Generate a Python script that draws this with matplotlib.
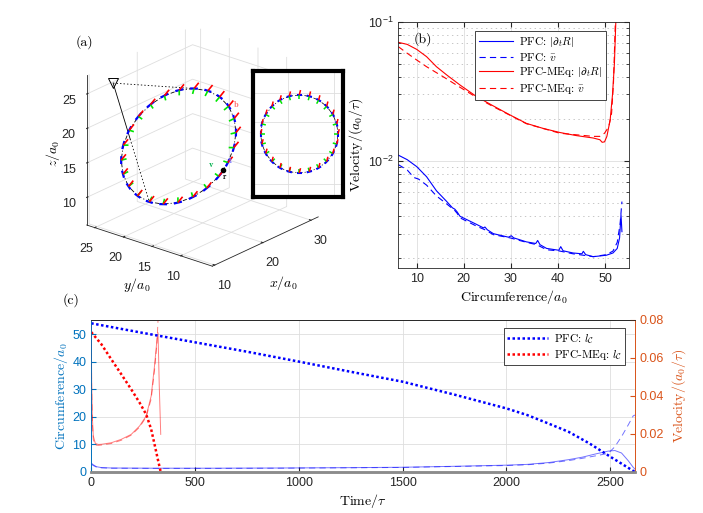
import numpy as np
import matplotlib
matplotlib.use('Agg')
import matplotlib.pyplot as plt
from matplotlib.collections import LineCollection
from matplotlib.ticker import NullFormatter
from mpl_toolkits.mplot3d import proj3d
from mpl_toolkits.mplot3d.art3d import Line3DCollection

W, H = 703, 513
plt.rcParams.update({
    'font.family': ['Liberation Sans', 'DejaVu Sans'],
    'mathtext.fontset': 'cm',
    'font.size': 9,
    'xtick.labelsize': 9, 'ytick.labelsize': 9,
    'axes.edgecolor': '#262626', 'xtick.color': '#262626', 'ytick.color': '#262626',
    'axes.linewidth': 0.6,
    'grid.color': '#dedede', 'grid.linewidth': 0.6,
    'lines.scale_dashes': False,
})
SERIF = 'cmr10'

# ---------------- data: panel (a) dislocation loop (3D) ----------------
loop_x = [15.60, 17.17, 18.64, 19.90, 20.87, 21.47, 21.68, 21.47, 20.87, 19.90, 18.64, 17.17,
          15.60, 14.03, 12.56, 11.30, 10.33, 9.73, 9.52, 9.73, 10.33, 11.30, 12.56, 14.03]
loop_y = [24.10, 23.81, 22.95, 21.58, 19.80, 17.73, 15.50, 13.27, 11.20, 9.42, 8.05, 7.19,
          6.90, 7.19, 8.05, 9.42, 11.20, 13.27, 15.50, 17.73, 19.80, 21.58, 22.95, 23.81]
loop_z = [18.40, 19.97, 21.44, 22.70, 23.67, 24.27, 24.48, 24.27, 23.67, 22.70, 21.44, 19.97,
          18.40, 16.83, 15.36, 14.10, 13.13, 12.53, 12.32, 12.53, 13.13, 14.10, 15.36, 16.83]
burgers = [0.68, -0.25, 0.69]
r_point = [14.75, 6.99, 17.55]
camera_point = [2.0, 15.5, 32.0]
cone_targets = [5, 18]

# ---------------- data: panel (b) velocity vs circumference ----------------
b_circ_pfc_s = [6.1, 8.0, 10.0, 12.1, 14.2, 16.4, 17.6, 18.1, 18.6, 19.2, 22.7, 24.2, 24.5, 25.0,
                26.3, 29.5, 30.1, 30.6, 33.3, 35.3, 35.7, 36.2, 37.6, 40.2, 40.6, 41.1, 43.2,
                45.1, 45.4, 45.9, 47.5, 50.3, 51.7, 52.6, 53.1, 53.4, 53.6]
b_vel_pfc_s = [0.0110, 0.0102, 0.0091, 0.0077, 0.0061, 0.0051, 0.0046, 0.0045, 0.0043, 0.0040,
               0.0035, 0.0033, 0.00335, 0.0032, 0.0030, 0.00283, 0.00290, 0.0028, 0.00262,
               0.00255, 0.00268, 0.00250, 0.00235, 0.00228, 0.00242, 0.00226, 0.00218, 0.00215,
               0.00224, 0.00212, 0.00205, 0.00210, 0.00218, 0.00235, 0.0028, 0.0041, 0.0031]
b_circ_pfc_d = [6.1, 8.0, 9.4, 10.4, 12.1, 14.2, 16.4, 18.1, 18.6, 19.2, 22.7, 24.5, 26.3, 29.8,
                33.3, 35.5, 37.6, 40.4, 43.2, 45.4, 47.5, 50.3, 51.7, 52.6, 53.2, 53.6]
b_vel_pfc_d = [0.0094, 0.0086, 0.0076, 0.0074, 0.0067, 0.0056, 0.0049, 0.0044, 0.0042, 0.0039,
               0.0034, 0.0032, 0.00295, 0.0028, 0.0026, 0.0025, 0.0023, 0.00225, 0.00215,
               0.0021, 0.00205, 0.00212, 0.00225, 0.0026, 0.0035, 0.0051]
b_circ_meq_s = [6.1, 8.0, 10.0, 12.1, 14.2, 16.4, 19.2, 22.7, 26.3, 29.8, 33.3, 36.9, 40.4, 43.9,
                47.5, 48.9, 49.4, 49.9, 50.4, 51.1, 51.6, 52.0, 52.3]
b_vel_meq_s = [0.0711, 0.0687, 0.0633, 0.0561, 0.0475, 0.0414, 0.0351, 0.0290, 0.0248, 0.0214,
               0.0186, 0.0171, 0.0160, 0.0152, 0.0146, 0.0142, 0.0136, 0.0137, 0.0150, 0.0197,
               0.030, 0.050, 0.1]
b_circ_meq_d = [6.1, 8.0, 10.0, 12.1, 15.6, 19.2, 22.7, 26.3, 33.3, 40.4, 47.5, 48.9, 49.9, 50.8,
                51.4, 51.8, 52.2]
b_vel_meq_d = [0.0662, 0.0593, 0.0531, 0.0475, 0.0403, 0.0338, 0.0286, 0.0245, 0.0185, 0.0158,
               0.0150, 0.0150, 0.0158, 0.0176, 0.0220, 0.0361, 0.1]

# ---------------- data: panel (c) time series ----------------
c_t_lc_pfc = [0, 250, 500, 750, 1000, 1250, 1500, 1750, 2000, 2100, 2200, 2300, 2400, 2500, 2560, 2620]
c_lc_pfc = [54.0, 50.5, 47.1, 43.7, 40.1, 36.4, 32.8, 28.1, 23.1, 20.7, 17.7, 14.6, 10.4, 5.6, 2.8, 0.0]
c_t_lc_meq = [0, 49, 97, 145, 193, 233, 265, 289, 305, 321, 335]
c_lc_meq = [50.8, 46.4, 40.9, 35.5, 30.0, 25.2, 20.9, 15.5, 10.1, 4.6, 0.0]
c_t_v_pfc = [0, 10, 25, 50, 100, 300, 600, 900, 1250, 1500, 1750, 2000, 2100, 2206, 2300, 2366,
             2430, 2491, 2523, 2555, 2587, 2611, 2620]
c_v_pfc_s = [0.0047, 0.0038, 0.0028, 0.0023, 0.0021, 0.0020, 0.0020, 0.0021, 0.0023, 0.0025,
             0.0030, 0.0036, 0.0040, 0.0050, 0.0065, 0.0078, 0.0095, 0.0110, 0.0113, 0.0100,
             0.0060, 0.0025, 0.0015]
c_v_pfc_d = [0.0042, 0.0034, 0.0026, 0.0022, 0.0020, 0.0019, 0.0019, 0.0020, 0.0022, 0.0024,
             0.0029, 0.0034, 0.0038, 0.0047, 0.0060, 0.0072, 0.0085, 0.0098, 0.0133, 0.0186,
             0.0247, 0.0295, 0.0300]
c_t_v_meq_s = [0, 2, 5, 10, 20, 35, 50, 97, 145, 193, 233, 265, 289, 305, 317, 322, 328, 335]
c_v_meq_s = [0.085, 0.050, 0.030, 0.019, 0.0150, 0.0145, 0.0146, 0.0154, 0.0172, 0.0198, 0.0242,
             0.0295, 0.040, 0.0558, 0.0698, 0.0733, 0.045, 0.0198]
c_t_v_meq_d = [0, 2, 5, 10, 20, 35, 50, 97, 145, 193, 233, 265, 289, 305, 317, 324, 330]
c_v_meq_d = [0.085, 0.045, 0.027, 0.017, 0.0142, 0.0140, 0.0142, 0.0150, 0.0167, 0.0194, 0.0236,
             0.0290, 0.0385, 0.0535, 0.068, 0.085, 0.11]

C_LEFT = (0.0, 0.447, 0.741)
C_RIGHT = (0.85, 0.325, 0.098)
DASH = (0, (4.5, 3.0))
DOT = (0, (1.8, 1.8))

fig = plt.figure(figsize=(W / 100, H / 100), dpi=100)


def fx(px):
    return px / W


def fy(py):
    return 1 - py / H


# ================= panel (a): 3D loop =================
ax3 = fig.add_axes([0.0, 0.40, 0.50, 0.60], projection='3d', computed_zorder=False)
ax3.patch.set_alpha(0)
ax3.set_proj_type('ortho')
ax3.view_init(elev=23, azim=-140)
XL, YL, ZL = (9.5, 31.5), (4.5, 26.4), (6.0, 27.7)

P = np.column_stack([loop_x, loop_y, loop_z])
Cc = P.mean(axis=0)
T = np.roll(P, -1, 0) - np.roll(P, 1, 0)
T /= np.linalg.norm(T, axis=1)[:, None]
Nin = Cc - P
Nin /= np.linalg.norm(Nin, axis=1)[:, None]
Bv = np.array(burgers) / np.linalg.norm(burgers)

closed = np.vstack([P, P[:1]])
ax3.plot(closed[:, 0], closed[:, 1], closed[:, 2], color='k', lw=0.6, ls=(0, (3, 1.5, 0.8, 1.5)))
Pc = np.array(camera_point)
for k, idx in enumerate(cone_targets):
    tgt = P[idx]
    if k == 0:
        ax3.plot([Pc[0], tgt[0]], [Pc[1], tgt[1]], [Pc[2], tgt[2]], color='k', lw=0.6, ls=(0, (1, 1.5)))
    else:
        mid = Pc + 0.47 * (tgt - Pc)
        ax3.plot([Pc[0], mid[0]], [Pc[1], mid[1]], [Pc[2], mid[2]], color='k', lw=0.6)
        ax3.plot([mid[0], tgt[0]], [mid[1], tgt[1]], [mid[2], tgt[2]], color='k', lw=0.6, ls=(0, (1, 1.5)))
ax3.plot([Pc[0]], [Pc[1]], [Pc[2]], marker='v', ms=7, mfc='none', mec='k', mew=0.7)
ax3.add_collection3d(Line3DCollection(np.stack([P - 0.6 * T, P + 0.6 * T], 1), colors='b', linewidths=1.6), autolim=False)
ax3.add_collection3d(Line3DCollection(np.stack([P, P + 0.8 * Nin], 1), colors=(0, 0.9, 0), linewidths=1.2), autolim=False)
ax3.add_collection3d(Line3DCollection(np.stack([P, P + 1.0 * Bv], 1), colors='r', linewidths=1.2), autolim=False)
ax3.plot([r_point[0]], [r_point[1]], [r_point[2]], 'o', color='k', ms=3)

ax3.set_xlim(*XL)
ax3.set_ylim(*YL)
ax3.set_zlim(*ZL)
ax3.set_box_aspect((XL[1] - XL[0], YL[1] - YL[0], ZL[1] - ZL[0]))
ax3.set_xticks([10, 20, 30])
ax3.set_yticks([10, 15, 20, 25])
ax3.set_zticks([10, 15, 20, 25])
for axis in (ax3.xaxis, ax3.yaxis, ax3.zaxis):
    axis.set_pane_color((1, 1, 1, 0))
    axis.pane.set_edgecolor('#dedede')
    axis.line.set_color('#262626')
    axis.line.set_linewidth(0.6)
    axis._axinfo['grid']['color'] = '#dedede'
    axis._axinfo['grid']['linewidth'] = 0.6
    axis._axinfo['tick']['inward_factor'] = 0.0
    axis._axinfo['tick']['outward_factor'] = 0.15
ax3.tick_params(labelsize=9, pad=0)


def proj_px(ax, p):
    xs, ys, _ = proj3d.proj_transform(p[0], p[1], p[2], ax.get_proj())
    return np.array(ax.transData.transform((xs, ys)))


# fit the 3D box to the reference layout
ta = np.array([86.7, H - 225.0])
tb = np.array([318.3, H - 220.0])
for _ in range(4):
    fig.canvas.draw()
    a = proj_px(ax3, (XL[0], YL[1], ZL[0]))
    b = proj_px(ax3, (XL[1], YL[0], ZL[0]))
    k = np.linalg.norm(tb - ta) / np.linalg.norm(b - a)
    bb = ax3.get_position()
    cx, cy = (bb.x0 + bb.width / 2) * W, (bb.y0 + bb.height / 2) * H
    a_new = np.array([cx, cy]) + k * (a - np.array([cx, cy]))
    sh = ta - a_new
    wn, hn = bb.width * k, bb.height * k
    ax3.set_position([(cx + sh[0]) / W - wn / 2, (cy + sh[1]) / H - hn / 2, wn, hn])

fig.text(fx(53), fy(153), r'$z/a_0$', rotation=90, ha='center', va='center', fontsize=10)
fig.text(fx(137), fy(285), r'$y/a_0$', ha='center', va='center', fontsize=10)
fig.text(fx(283), fy(283), r'$x/a_0$', ha='center', va='center', fontsize=10)
fig.text(fx(84), fy(42), '(a)', family=SERIF, ha='center', va='center', fontsize=10)
fig.text(fx(236), fy(104), r'$\mathbf{b}$', color=(1, 0.4, 0.4), ha='center', va='center', fontsize=6)
fig.text(fx(230), fy(160), r'$\mathbf{t}$', color=(0.4, 0.4, 1), ha='center', va='center', fontsize=6)
fig.text(fx(211), fy(165), r'$\mathbf{v}$', color=(0, 0.7, 0.3), ha='center', va='center', fontsize=6)
fig.text(fx(225), fy(177), r'$\mathbf{r}$', color='k', ha='center', va='center', fontsize=6)

# ---- inset: loop seen along its normal ----
axi = fig.add_axes([fx(253.2), fy(196.8), (343.5 - 253.2) / W, (196.8 - 70.8) / H])
hx = P[:, 1]
vx = (P[:, 0] + P[:, 2]) / np.sqrt(2)


def inset_vec(V):
    return np.column_stack([V[:, 1], (V[:, 0] + V[:, 2]) / np.sqrt(2)])


Q = np.column_stack([hx, vx])
Qc = np.vstack([Q, Q[:1]])
axi.plot(Qc[:, 0], Qc[:, 1], color='k', lw=0.5, ls=(0, (3, 1.5, 0.8, 1.5)))
Ti = inset_vec(T)
Ni = inset_vec(Nin)
Bi = inset_vec(Bv[None, :])[0]
axi.add_collection(LineCollection(np.stack([Q - 0.6 * Ti, Q + 0.6 * Ti], 1), colors='b', linewidths=1.5))
axi.add_collection(LineCollection(np.stack([Q, Q + 0.9 * Ni], 1), colors=(0, 0.9, 0), linewidths=1.1))
axi.add_collection(LineCollection(np.stack([Q, Q + 1.1 * Bi[None, :]], 1), colors='r', linewidths=1.1))
axi.set_xlim(25.74, 5.68)
axi.set_ylim(10.21, 37.95)
axi.set_xticks([17.93, 7.83])
axi.set_yticks([33.13, 26.68, 19.89, 13.07])
axi.grid(True, color='#dedede', lw=0.6)
axi.tick_params(length=0, labelbottom=False, labelleft=False)
for s in axi.spines.values():
    s.set_linewidth(3)
    s.set_color('k')

# ================= panel (b) =================
axb = fig.add_axes([fx(398.3), fy(268), (629 - 398.3) / W, (268 - 21.7) / H])
axb.plot(b_circ_pfc_s, b_vel_pfc_s, color='b', lw=0.8, label=r'PFC: $|\partial_t R|$')
axb.plot(b_circ_pfc_d, b_vel_pfc_d, color='b', lw=0.8, ls=DASH, label=r'PFC: $\bar{v}$')
axb.plot(b_circ_meq_s, b_vel_meq_s, color='r', lw=0.8, label=r'PFC-MEq: $|\partial_t R|$')
axb.plot(b_circ_meq_d, b_vel_meq_d, color='r', lw=0.8, ls=DASH, label=r'PFC-MEq: $\bar{v}$')
axb.set_yscale('log')
axb.set_xlim(6.1, 55.1)
axb.set_ylim(1.7e-3, 0.1)
axb.set_xticks([10, 20, 30, 40, 50])
axb.yaxis.set_minor_formatter(NullFormatter())
axb.grid(True, which='major', color='#dedede', lw=0.6)
axb.yaxis.grid(True, which='minor', color='#bdbdbd', ls=(0, (1, 2.5)), lw=0.6)
axb.tick_params(which='both', direction='in', top=True, right=True)
axb.tick_params(which='major', length=3.5)
axb.tick_params(which='minor', length=2)
axb.set_axisbelow(True)
axb.set_xlabel(r'Circumference/$a_0$', family=SERIF, fontsize=10, labelpad=2)
axb.set_ylabel(r'Velocity/$(a_0/\tau)$', family=SERIF, fontsize=10, labelpad=2)
leg = axb.legend(loc='upper left', bbox_to_anchor=(fx(475), fy(30.7)), bbox_transform=fig.transFigure,
                 borderaxespad=0, prop={'family': SERIF, 'size': 8.2}, handlelength=3.0,
                 labelspacing=0.2, borderpad=0.35, handletextpad=0.5, fancybox=False,
                 framealpha=1, edgecolor='#262626')
leg.get_frame().set_linewidth(0.6)
fig.text(fx(423), fy(39.3), '(b)', family=SERIF, ha='center', va='center', fontsize=10)

# ================= panel (c) =================
axc = fig.add_axes([fx(91.2), fy(472), (635 - 91.2) / W, (472 - 320) / H])
axc2 = axc.twinx()
axc2.plot(c_t_v_pfc, c_v_pfc_s, color=(0, 0, 1, 0.55), lw=0.7)
axc2.plot(c_t_v_pfc, c_v_pfc_d, color=(0, 0, 1, 0.55), lw=0.7, ls=DASH)
axc2.plot(c_t_v_meq_s, c_v_meq_s, color=(1, 0, 0, 0.5), lw=0.7)
axc2.plot(c_t_v_meq_d, c_v_meq_d, color=(1, 0, 0, 0.5), lw=0.7, ls=DASH)
l1, = axc2.plot(c_t_lc_pfc, c_lc_pfc, color='b', lw=1.8, ls=DOT, dash_capstyle='butt', transform=axc.transData)
l2, = axc2.plot(c_t_lc_meq, c_lc_meq, color='r', lw=1.8, ls=DOT, dash_capstyle='butt', transform=axc.transData)
axc.set_xlim(0, 2620)
axc.set_ylim(0, 55.2)
axc2.set_ylim(0, 0.08)
axc.set_xticks([0, 500, 1000, 1500, 2000, 2500])
axc.set_yticks([0, 10, 20, 30, 40, 50])
axc2.set_yticks([0, 0.02, 0.04, 0.06, 0.08])
axc2.set_yticklabels(['0', '0.02', '0.04', '0.06', '0.08'])
axc.grid(True, color='#dedede', lw=0.6)
axc.tick_params(direction='in', length=3.5)
axc.tick_params(axis='y', colors=C_LEFT)
axc2.tick_params(direction='in', length=3.5, colors=C_RIGHT)
axc.spines['left'].set_color(C_LEFT)
axc2.spines['left'].set_color(C_LEFT)
axc2.spines['right'].set_color(C_RIGHT)
axc.spines['right'].set_color(C_RIGHT)
for a_ in (axc, axc2):
    a_.spines['bottom'].set_color('#8c8c8c')
    a_.spines['bottom'].set_linewidth(1.8)
    a_.spines['top'].set_color('#262626')
axc.set_xlabel(r'Time/$\tau$', family=SERIF, fontsize=10, labelpad=2)
axc.set_ylabel(r'Circumference/$a_0$', family=SERIF, fontsize=10, color=C_LEFT, labelpad=2)
axc2.set_ylabel(r'Velocity/$(a_0/\tau)$', family=SERIF, fontsize=10, color=C_RIGHT, labelpad=4)
leg2 = axc2.legend(handles=[l1, l2], labels=[r'PFC: $l_{\mathcal{C}}$', r'PFC-MEq: $l_{\mathcal{C}}$'],
                   loc='upper left', bbox_to_anchor=(fx(504), fy(328.3)), bbox_transform=fig.transFigure,
                   borderaxespad=0, prop={'family': SERIF, 'size': 8.2}, handlelength=3.6,
                   labelspacing=0.2, borderpad=0.3, handletextpad=0.5, fancybox=False,
                   framealpha=1, edgecolor='#262626')
leg2.get_frame().set_linewidth(0.6)
fig.text(fx(71), fy(300), '(c)', family=SERIF, ha='center', va='center', fontsize=10)

fig.savefig('out.png', dpi=100)
